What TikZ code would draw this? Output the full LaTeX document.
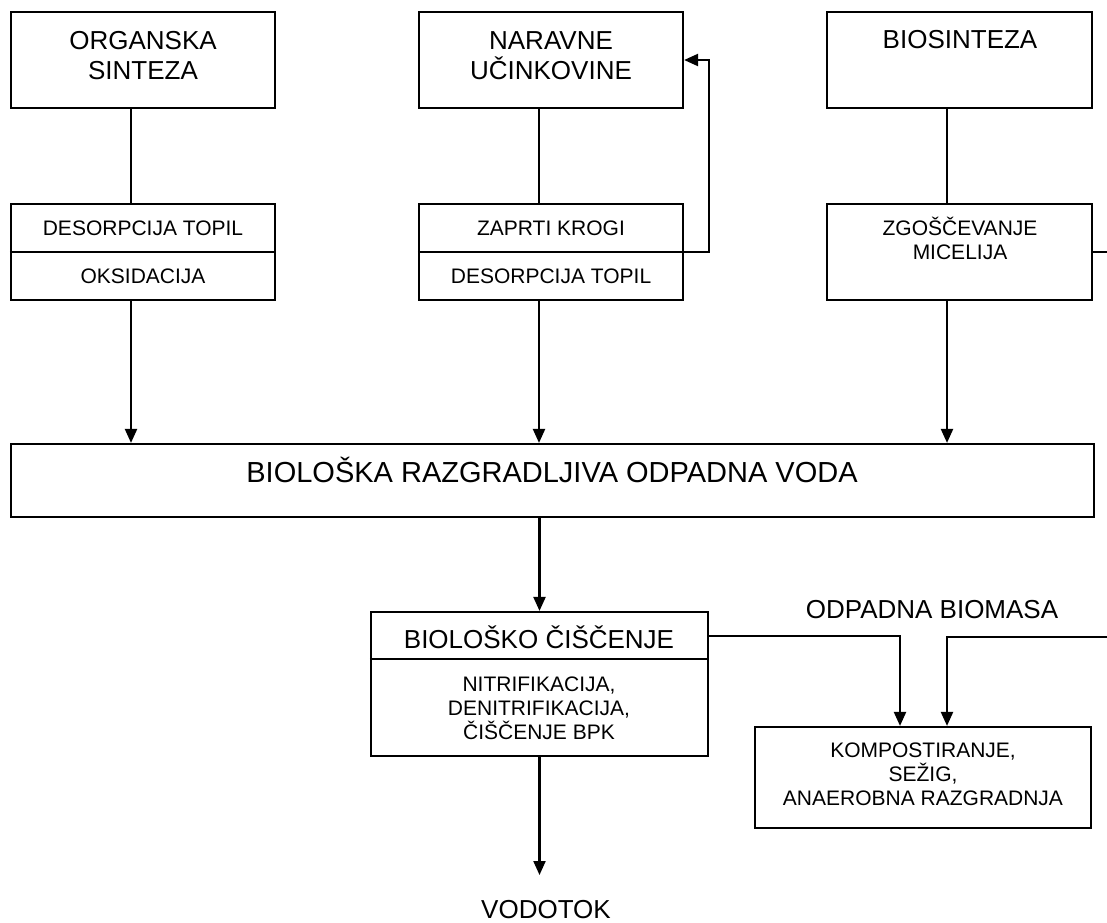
\documentclass[tikz,border=0pt]{standalone}
\usepackage{fontspec}
\setmainfont{Liberation Sans}
\usetikzlibrary{arrows.meta}
\begin{document}
\begin{tikzpicture}[x=1pt,y=-1pt,
  box/.style={draw,line width=2.2pt,rectangle,inner sep=0pt},
  wire/.style={line width=2.2pt},
  flow/.style={line width=2.2pt,-{Triangle[length=14pt,width=12pt]}},
  bigtxt/.style={font=\fontsize{26}{30}\selectfont,anchor=base,inner sep=0pt,align=center},
  titletxt/.style={font=\fontsize{29}{34}\selectfont,anchor=base,inner sep=0pt,align=center},
  smalltxt/.style={font=\fontsize{21}{24}\selectfont,anchor=base,inner sep=0pt,align=center}]
\useasboundingbox (0,0) rectangle (1107,922);

% source processes (text nodes are anchored at the baseline of their last line)
\node[box,minimum width=264pt,minimum height=96pt] (org) at (143,60) {};
\node[bigtxt] (orgT) at (143,79) {ORGANSKA\\SINTEZA};
\node[box,minimum width=264pt,minimum height=96pt] (nar) at (551,60) {};
\node[bigtxt] (narT) at (551,79) {NARAVNE\\UČINKOVINE};
\node[box,minimum width=265pt,minimum height=96pt] (bio) at (959.5,60) {};
\node[bigtxt] (bioT) at (960,48) {BIOSINTEZA};

% treatment steps at the source
\node[box,minimum width=264pt,minimum height=96pt] (orgs) at (143,252) {};
\draw[wire] (orgs.west) -- (orgs.east);
\node[smalltxt] (orgs1) at (143,235) {DESORPCIJA TOPIL};
\node[smalltxt] (orgs2) at (143,283) {OKSIDACIJA};

\node[box,minimum width=264pt,minimum height=96pt] (nars) at (551,252) {};
\draw[wire] (nars.west) -- (nars.east);
\node[smalltxt] (nars1) at (551,235) {ZAPRTI KROGI};
\node[smalltxt] (nars2) at (551,283) {DESORPCIJA TOPIL};

\node[box,minimum width=265pt,minimum height=96pt] (bios) at (959.5,252) {};
\node[smalltxt] (bios1) at (960,259) {ZGOŠČEVANJE\\MICELIJA};

% collected waste water
\node[box,minimum width=1083pt,minimum height=73pt] (voda) at (552.5,480.5) {};
\node[titletxt] (vodaT) at (552,482) {BIOLOŠKA RAZGRADLJIVA ODPADNA VODA};

% biological treatment
\node[box,minimum width=337pt,minimum height=144pt] (cisc) at (539.5,684) {};
\draw[wire] ([yshift=-48pt]cisc.north west) -- ([yshift=-48pt]cisc.north east);
\node[bigtxt] (ciscT) at (539,648) {BIOLOŠKO ČIŠČENJE};
\node[smalltxt] (ciscS) at (539,739) {NITRIFIKACIJA,\\DENITRIFIKACIJA,\\ČIŠČENJE BPK};

% waste biomass handling
\node[box,minimum width=336pt,minimum height=101pt] (komp) at (923,777.5) {};
\node[smalltxt] (kompT) at (923,805) {KOMPOSTIRANJE,\\SEŽIG,\\ANAEROBNA RAZGRADNJA};
\node[bigtxt] (biomasa) at (932,618) {ODPADNA BIOMASA};
\node[bigtxt] (vodotok) at (546,918) {VODOTOK};

\coordinate (edgeA) at (1107,252);
\coordinate (edgeB) at (1107,637);
\coordinate (outlet) at (539.5,875);

% connectors
\draw[wire] ([xshift=-12pt]org.south) -- ([xshift=-12pt]orgs.north);
\draw[wire] ([xshift=-12pt]nar.south) -- ([xshift=-12pt]nars.north);
\draw[wire] ([xshift=-12.5pt]bio.south) -- ([xshift=-12.5pt]bios.north);

\draw[flow] ([xshift=-12pt]orgs.south) -- ([xshift=-12pt]orgs.south |- voda.north);
\draw[flow] ([xshift=-12pt]nars.south) -- ([xshift=-12pt]nars.south |- voda.north);
\draw[flow] ([xshift=-12.5pt]bios.south) -- ([xshift=-12.5pt]bios.south |- voda.north);

\draw[flow] (nars.east) -- ++(25,0) |- (nar.east);
\draw[wire] (bios.east) -- (edgeA);

\draw[flow] (voda.south -| cisc.north) -- (cisc.north);
\draw[flow] ([yshift=-25pt]cisc.north east) -| ([xshift=-23pt]komp.north);
\draw[flow] (edgeB) -| ([xshift=24pt]komp.north);
\draw[flow] (cisc.south) -- (outlet);
\end{tikzpicture}
\end{document}
